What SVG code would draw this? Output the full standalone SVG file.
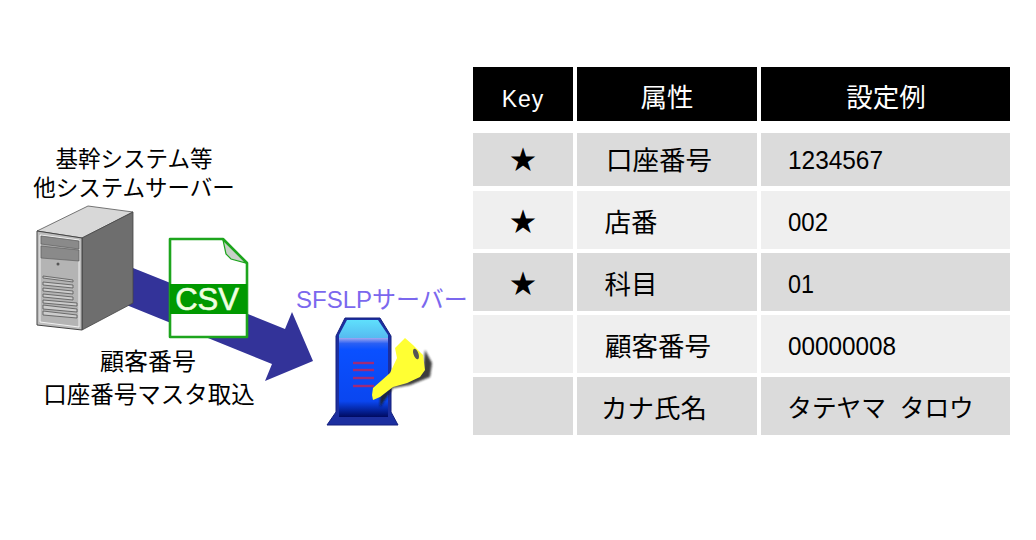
<svg xmlns="http://www.w3.org/2000/svg" width="1036" height="540" viewBox="0 0 1036 540">
<defs>
<style>
text{font-family:"Liberation Sans","Noto Sans CJK JP",sans-serif;fill:#000}
.h{fill:#000}.d{fill:#dbdbdb}.l{fill:#efefef}
.th{fill:#fff;font-size:26.5px;text-anchor:middle}
.c{font-size:26.5px;text-anchor:middle}
.v{font-size:25.5px}
.lab{font-size:22.5px;text-anchor:middle}
.lab2{font-size:23.5px;text-anchor:middle}
.slot{fill:#ccc;stroke:#555;stroke-width:.8}
</style>
<linearGradient id="srvBody" x1="0" y1="0" x2="0" y2="1">
<stop offset="0" stop-color="#a0a8f0"/><stop offset=".07" stop-color="#2a60f4"/><stop offset=".15" stop-color="#0a50ff"/><stop offset=".8" stop-color="#0a46f0"/><stop offset="1" stop-color="#000a60"/>
</linearGradient>
<linearGradient id="srvTop" x1="0" y1="0" x2="0" y2="1">
<stop offset="0" stop-color="#5fe0fc"/><stop offset="1" stop-color="#55b8f0"/>
</linearGradient>
<filter id="blur" x="-20%" y="-20%" width="140%" height="140%"><feGaussianBlur stdDeviation="1.3"/></filter>
</defs>
<rect width="1036" height="540" fill="#fff"/>

<g id="connectors">
<polygon points="133,268 285,329 292,312 313,361 265,381 272,364 124,304" fill="#333399"/>
</g>

<g id="legacy-server">
<polygon points="37,231 88,206 133,212 82,238" fill="#d8d8d8" stroke="#555" stroke-width=".8"/>
<polygon points="82,238 133,212 133,303 82,330" fill="#6e6e6e" stroke="#444" stroke-width=".8"/>
<polygon points="37,231 82,238 82,330 37,325" fill="#bdbdbd" stroke="#444" stroke-width="1"/>
<polygon points="40,235 79,240 79,327 40,322" fill="#b4b4b4" stroke="#fff" stroke-width=".8"/>
<polygon points="41,236 79,241 79,249 41,244" fill="#8a8a8a" stroke="#555" stroke-width=".6"/>
<polygon points="41,246 79,250 79,261 41,258" fill="#8a8a8a" stroke="#555" stroke-width=".6"/>
<circle cx="58" cy="264" r="1.5" fill="#555"/>
<polygon class="slot" points="43,276 73,280 73,282 43,278"/>
<polygon class="slot" points="43,282 73,285 73,288 43,285"/>
<polygon class="slot" points="43,288 73,291 73,294 43,291"/>
<polygon class="slot" points="43,294 73,297 73,300 43,297"/>
<polygon class="slot" points="43,300 77,303 77,306 43,303"/>
<polygon class="slot" points="43,305 77,309 77,312 43,309"/>
<polygon class="slot" points="43,311 77,315 77,318 43,315"/>
<text class="lab" x="134" y="167">基幹システム等</text>
<text class="lab" x="134" y="196">他システムサーバー</text>
</g>

<g id="csv-file">
<path d="M170,239H223L247,263V337H170Z" fill="#fff" stroke="#1da51d" stroke-width="2.6" stroke-linejoin="round"/>
<polygon points="223,240 246,263 231,259 226,254" fill="#c8d0c8" stroke="#1da51d" stroke-width="1.2"/>
<rect x="170" y="284" width="77" height="30" fill="#009900"/>
<text x="207" y="310" font-size="31" text-anchor="middle" style="fill:#f0ffe0;stroke:#f0ffe0;stroke-width:.6">CSV</text>
</g>

<g id="import-label">
<text class="lab2" x="148" y="370" style="font-size:24px">顧客番号</text>
<text class="lab2" x="149" y="403">口座番号マスタ取込</text>
</g>

<g id="sfslp-server">
<text x="296" y="308" font-size="24" style="fill:#7b68ee">SFSLPサーバー</text>
<polygon points="345,318 380,318 391,336 391,412 398,425 327,425 336,412 336,336" fill="#1c2fa0" stroke="#14207e" stroke-width="1"/>
<polygon points="347,320 378,320 388,335 388,339 339,339 339,335" fill="url(#srvTop)"/>
<rect x="339" y="338" width="49" height="79" fill="url(#srvBody)"/>
<g stroke="#a02a78" stroke-width="2.4">
<line x1="353" y1="363" x2="374" y2="363"/><line x1="353" y1="370" x2="374" y2="370"/>
<line x1="353" y1="378" x2="374" y2="378"/><line x1="353" y1="386" x2="374" y2="386"/>
</g>
<path d="M380,407L393,388L410,385L430,377L432,363L425,350L423,370L407,382L393,385L380,396Z" fill="#1a1a1a" opacity=".85" filter="url(#blur)"/>
<path d="M372,395L373,388L390,373L397,358L395,348L405,338L413,345L423,355L425,370L420,377L407,383L393,387L380,397L373,400Z" fill="#ffff33"/>
<ellipse cx="416" cy="354" rx="2.5" ry="5.5" transform="rotate(-20 416 354)" fill="#555"/>
</g>

<g id="table">
<rect class="h" x="473" y="67" width="100" height="54"/>
<rect class="h" x="577" y="67" width="180" height="54"/>
<rect class="h" x="761" y="67" width="249" height="54"/>
<text class="th" x="523" y="107" style="font-size:23px;letter-spacing:1px">Key</text>
<text class="th" x="667" y="107">属性</text>
<text class="th" x="886" y="107">設定例</text>

<rect class="d" x="473" y="133" width="100" height="53"/><rect class="d" x="577" y="133" width="180" height="53"/><rect class="d" x="761" y="133" width="249" height="53"/>
<rect class="l" x="473" y="191" width="100" height="58"/><rect class="l" x="577" y="191" width="180" height="58"/><rect class="l" x="761" y="191" width="249" height="58"/>
<rect class="d" x="473" y="253" width="100" height="58"/><rect class="d" x="577" y="253" width="180" height="58"/><rect class="d" x="761" y="253" width="249" height="58"/>
<rect class="l" x="473" y="315" width="100" height="58"/><rect class="l" x="577" y="315" width="180" height="58"/><rect class="l" x="761" y="315" width="249" height="58"/>
<rect class="d" x="473" y="377" width="100" height="58"/><rect class="d" x="577" y="377" width="180" height="58"/><rect class="d" x="761" y="377" width="249" height="58"/>

<text class="c" x="523" y="169">★</text>
<text class="c" x="523" y="231">★</text>
<text class="c" x="523" y="293">★</text>

<text class="c" x="659" y="170">口座番号</text>
<text class="c" x="631" y="232">店番</text>
<text class="c" x="631" y="294">科目</text>
<text class="c" x="658" y="356">顧客番号</text>
<text class="c" x="654" y="418">カナ氏名</text>

<text class="v" x="788" y="169" textLength="95" lengthAdjust="spacingAndGlyphs">1234567</text>
<text class="v" x="788" y="231" textLength="40" lengthAdjust="spacingAndGlyphs">002</text>
<text class="v" x="788" y="293" textLength="26" lengthAdjust="spacingAndGlyphs">01</text>
<text class="v" x="788" y="355" textLength="108" lengthAdjust="spacingAndGlyphs">00000008</text>
<text class="c" x="880.5" y="417" style="font-size:24.7px" xml:space="preserve">タテヤマ  タロウ</text>
</g>
</svg>
